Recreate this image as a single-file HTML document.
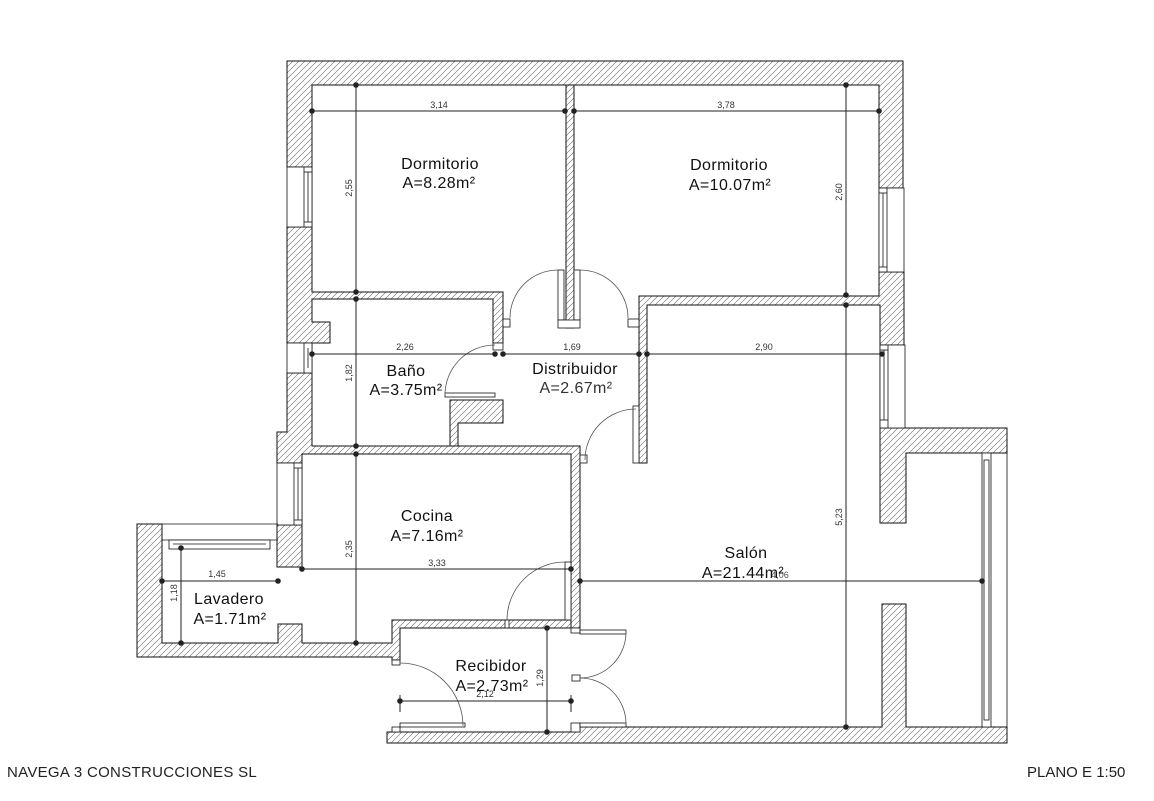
<!DOCTYPE html>
<html>
<head>
<meta charset="utf-8">
<style>
  html,body{margin:0;padding:0;background:#fff;}
  body{width:1154px;height:801px;overflow:hidden;position:relative;}
  svg{position:absolute;left:0;top:0;}
  .room{font-family:"Liberation Sans",Arial,sans-serif;font-size:16px;fill:#111;letter-spacing:0.4px;}
  .dim{font-family:"Liberation Sans",Arial,sans-serif;font-size:9px;fill:#333;}
  .foot{position:absolute;font-family:"Liberation Sans",Arial,sans-serif;font-size:15px;color:#222;top:764px;white-space:nowrap;}
</style>
</head>
<body>
<svg width="1154" height="801" viewBox="0 0 1154 801" xmlns="http://www.w3.org/2000/svg">
  <defs>
    <pattern id="h" patternUnits="userSpaceOnUse" width="6" height="6">
      <path d="M-1,1 l2,-2 M0,6 l6,-6 M5,7 l2,-2" stroke="#666" stroke-width="0.6"/>
    </pattern>
  </defs>

  <g fill="url(#h)" stroke="#111" stroke-width="1" stroke-linejoin="miter">
    <polygon points="287,167 287,61 903,61 903,188 879,188 879,85 312,85 312,167"/>
    <polygon points="639,296 879,296 879,272 904,272 904,345 880,345 880,305 647,305 647,463 639,463"/>
    <rect x="566" y="85" width="8" height="243"/>
    <polygon points="287,227 312,227 312,292 503,292 503,343 493,343 493,299 312,299 312,322 330,322 330,343 287,343"/>
    <polygon points="287,373 312,373 312,446 580,446 580,628 571,628 571,454 302,454 302,463 277,463 277,432 287,432"/>
    <polygon points="450,400 503,400 503,423 458,423 458,446 450,446"/>
    <rect x="277" y="525" width="25" height="42"/>
    <polygon points="137,524 162,524 162,643 278,643 278,624 302,624 302,643 392,643 392,620 571,620 571,628 400,628 400,660 392,660 392,657 137,657"/>
    <polygon points="880,428 1007,428 1007,453 906,453 906,523 880,523"/>
    <polygon points="387,732 580,732 580,727 882,727 882,604 906,604 906,727 1007,727 1007,743 387,743"/>
  </g>

  <g fill="#fff" stroke="#111" stroke-width="0.8">
    <rect x="503" y="319" width="7" height="8"/>
    <rect x="628" y="319" width="11" height="8"/>
    <rect x="580" y="455" width="7" height="8"/>
    <rect x="505" y="620" width="4" height="8"/>
    <rect x="392" y="727" width="8" height="5"/>
    <rect x="392" y="660" width="8" height="5"/>
    <rect x="572" y="675" width="8" height="6"/>
    <rect x="571" y="628" width="9" height="5"/>
    <rect x="571" y="723" width="9" height="9"/>
    <rect x="493" y="343" width="10" height="7"/>
  </g>

  <g fill="#fff" stroke="#111" stroke-width="0.8">
    <rect x="287" y="167" width="25" height="60"/>
    <rect x="304" y="167" width="8" height="60"/>
    <line x1="308" y1="172" x2="308" y2="222"/>
    <line x1="304" y1="172" x2="312" y2="172"/><line x1="304" y1="222" x2="312" y2="222"/>
    <rect x="879" y="188" width="25" height="84"/>
    <rect x="879" y="188" width="8" height="84"/>
    <line x1="883" y1="193" x2="883" y2="267"/>
    <line x1="879" y1="193" x2="887" y2="193"/><line x1="879" y1="267" x2="887" y2="267"/>
    <rect x="287" y="343" width="25" height="30"/>
    <rect x="304" y="343" width="8" height="30"/>
    <line x1="308" y1="348" x2="308" y2="368"/>
    <rect x="277" y="463" width="25" height="62"/>
    <rect x="294" y="463" width="8" height="62"/>
    <line x1="298" y1="468" x2="298" y2="520"/>
    <line x1="294" y1="468" x2="302" y2="468"/><line x1="294" y1="520" x2="302" y2="520"/>
    <rect x="880" y="345" width="25" height="83"/>
    <rect x="880" y="345" width="8" height="83"/>
    <line x1="884" y1="350" x2="884" y2="420"/>
    <line x1="880" y1="350" x2="888" y2="350"/><line x1="880" y1="420" x2="888" y2="420"/>
    <line x1="137" y1="524" x2="278" y2="524"/>
    <line x1="162" y1="540" x2="278" y2="540"/>
    <rect x="169" y="540" width="101" height="9"/>
    <line x1="173" y1="544" x2="266" y2="544"/>
    <line x1="1007" y1="453" x2="1007" y2="727"/>
    <rect x="982" y="453" width="9" height="274"/>
    <rect x="984" y="460" width="5" height="260"/>
  </g>

  <g fill="#fff" stroke="#111" stroke-width="0.8">
    <rect x="558" y="270" width="6" height="50"/>
    <rect x="574" y="270" width="6" height="50"/>
    <rect x="558" y="320" width="22" height="8"/>
    <rect x="445" y="393" width="50" height="4"/>
    <rect x="633" y="406" width="6" height="57"/>
    <rect x="565" y="562" width="6" height="58"/>
    <rect x="400" y="723" width="65" height="4"/>
    <rect x="580" y="630" width="46" height="4"/>
    <rect x="580" y="723" width="46" height="4"/>
  </g>
  <g fill="none" stroke="#555" stroke-width="0.8">
    <path d="M558,270 A48,48 0 0 0 510,318"/>
    <path d="M580,270 A48,48 0 0 1 628,318"/>
    <path d="M445,395 A50,50 0 0 1 495,345"/>
    <path d="M585,460 A51,51 0 0 1 636,409"/>
    <path d="M507,620 A58,58 0 0 1 565,562"/>
    <path d="M400,663 A63,63 0 0 1 463,726"/>
    <path d="M626,632 A46,46 0 0 1 580,678"/>
    <path d="M580,678 A46,46 0 0 1 626,724"/>
  </g>

  <g stroke="#222" stroke-width="1" fill="none">
    <line x1="312" y1="111" x2="565" y2="111"/>
    <line x1="574" y1="111" x2="879" y2="111"/>
    <line x1="356" y1="85" x2="356" y2="292"/>
    <line x1="846" y1="85" x2="846" y2="295"/>
    <line x1="312" y1="354" x2="495" y2="354"/>
    <line x1="503" y1="354" x2="639" y2="354"/>
    <line x1="647" y1="354" x2="882" y2="354"/>
    <line x1="356" y1="299" x2="356" y2="446"/>
    <line x1="846" y1="305" x2="846" y2="727"/>
    <line x1="356" y1="454" x2="356" y2="643"/>
    <line x1="302" y1="569" x2="571" y2="569"/>
    <line x1="580" y1="581" x2="982" y2="581"/>
    <line x1="162" y1="581" x2="278" y2="581"/>
    <line x1="181" y1="548" x2="181" y2="643"/>
    <line x1="400" y1="701" x2="571" y2="701"/>
    <line x1="400" y1="695" x2="400" y2="712"/>
    <line x1="571" y1="695" x2="571" y2="712"/>
    <line x1="547" y1="628" x2="547" y2="732"/>
  </g>
  <g fill="#222">
    <circle cx="312" cy="111" r="2.8"/><circle cx="565" cy="111" r="2.8"/>
    <circle cx="574" cy="111" r="2.8"/><circle cx="879" cy="111" r="2.8"/>
    <circle cx="356" cy="85" r="2.8"/><circle cx="356" cy="292" r="2.8"/>
    <circle cx="846" cy="85" r="2.8"/><circle cx="846" cy="295" r="2.8"/>
    <circle cx="312" cy="354" r="2.8"/><circle cx="495" cy="354" r="2.8"/>
    <circle cx="503" cy="354" r="2.8"/><circle cx="639" cy="354" r="2.8"/>
    <circle cx="647" cy="354" r="2.8"/><circle cx="882" cy="354" r="2.8"/>
    <circle cx="356" cy="299" r="2.8"/><circle cx="356" cy="446" r="2.8"/>
    <circle cx="846" cy="305" r="2.8"/><circle cx="846" cy="727" r="2.8"/>
    <circle cx="356" cy="454" r="2.8"/><circle cx="356" cy="643" r="2.8"/>
    <circle cx="302" cy="569" r="2.8"/><circle cx="571" cy="569" r="2.8"/>
    <circle cx="580" cy="581" r="2.8"/><circle cx="982" cy="581" r="2.8"/>
    <circle cx="162" cy="581" r="2.8"/><circle cx="278" cy="581" r="2.8"/>
    <circle cx="181" cy="548" r="2.8"/><circle cx="181" cy="643" r="2.8"/>
    <circle cx="400" cy="701" r="2.8"/><circle cx="571" cy="701" r="2.8"/>
    <circle cx="547" cy="628" r="2.8"/><circle cx="547" cy="732" r="2.8"/>
  </g>

  <g class="dim" text-anchor="middle">
    <text x="439" y="108">3,14</text>
    <text x="726" y="108">3,78</text>
    <text x="405" y="350">2,26</text>
    <text x="572" y="350">1,69</text>
    <text x="764" y="350">2,90</text>
    <text x="437" y="566">3,33</text>
    <text x="217" y="577">1,45</text>
    <text x="485" y="697">2,12</text>
    <text x="780" y="578" fill="#555">4,06</text>
    <text transform="translate(352,188) rotate(-90)">2,55</text>
    <text transform="translate(842,192) rotate(-90)">2,60</text>
    <text transform="translate(352,373) rotate(-90)">1,82</text>
    <text transform="translate(352,549) rotate(-90)">2,35</text>
    <text transform="translate(842,517) rotate(-90)">5,23</text>
    <text transform="translate(177,593) rotate(-90)">1,18</text>
    <text transform="translate(543,678) rotate(-90)">1,29</text>
  </g>

  <g class="room" text-anchor="middle">
    <text x="440" y="169">Dormitorio</text>
    <text x="439" y="188">A=8.28m²</text>
    <text x="729" y="170">Dormitorio</text>
    <text x="730" y="190">A=10.07m²</text>
    <text x="406" y="376">Baño</text>
    <text x="406" y="395">A=3.75m²</text>
    <text x="575" y="374">Distribuidor</text>
    <text x="576" y="393" fill="#333">A=2.67m²</text>
    <text x="427" y="521">Cocina</text>
    <text x="427" y="541">A=7.16m²</text>
    <text x="229" y="604">Lavadero</text>
    <text x="230" y="624">A=1.71m²</text>
    <text x="491" y="671">Recibidor</text>
    <text x="492" y="691">A=2.73m²</text>
    <text x="746" y="558">Salón</text>
    <text x="743" y="578">A=21.44m²</text>
  </g>
</svg>
<div class="foot" style="left:7px;letter-spacing:0.3px;">NAVEGA 3 CONSTRUCCIONES SL</div>
<div class="foot" style="left:1027px;">PLANO E 1:50</div>
</body>
</html>
